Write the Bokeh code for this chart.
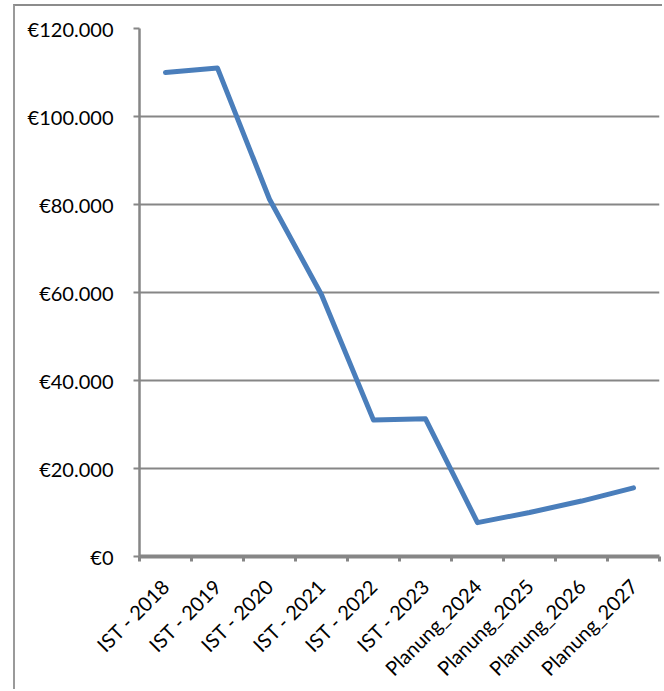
from math import pi
from bokeh.plotting import figure
from bokeh.models import Range1d, FixedTicker
from bokeh.embed import file_html
from bokeh.resources import INLINE

# ---- data ----
categories = ["IST - 2018", "IST - 2019", "IST - 2020", "IST - 2021", "IST - 2022",
              "IST - 2023", "Planung_2024", "Planung_2025", "Planung_2026", "Planung_2027"]
values = [110000, 111000, 81200, 59500, 31000, 31300, 7700, 10000, 12600, 15600]
y_ticks = [0, 20000, 40000, 60000, 80000, 100000, 120000]
y_tick_labels = ["€0", "€20.000", "€40.000", "€60.000", "€80.000", "€100.000", "€120.000"]

n = len(categories)
xs = [i + 0.5 for i in range(n)]

GRAY = "#868686"
FONT = "Lato"

p = figure(width=649, height=685, output_backend="svg", toolbar_location=None,
           x_range=Range1d(0, n), y_range=Range1d(0, 120000),
           min_border_left=124, min_border_right=5, min_border_top=22, min_border_bottom=134)
p.background_fill_color = "white"
p.border_fill_color = "white"
p.outline_line_color = None
p.styles = {"border-left": "2px solid #9a9a9a", "border-top": "2px solid #8c8c8c",
            "margin-left": "13px", "margin-top": "4px"}

p.line(xs, values, line_color="#4a7ebb", line_width=5, line_join="round", line_cap="round")

# x axis
p.xaxis.ticker = FixedTicker(ticks=xs, minor_ticks=list(range(n + 1)))
p.xaxis.major_label_overrides = {x: c for x, c in zip(xs, categories)}
p.xaxis.major_label_orientation = pi / 4
p.xaxis.major_tick_line_color = None
p.xaxis.minor_tick_line_color = GRAY
p.xaxis.minor_tick_line_width = 3
p.xaxis.minor_tick_out = 5
p.xaxis.minor_tick_in = 0
p.xaxis.axis_line_color = GRAY
p.xaxis.axis_line_width = 4
p.xaxis.major_label_text_font = FONT
p.xaxis.major_label_text_font_size = "20px"
p.xaxis.major_label_text_color = "black"
p.xaxis.major_label_standoff = 20

# y axis
p.yaxis.ticker = FixedTicker(ticks=y_ticks)
p.yaxis.major_label_overrides = {t: l for t, l in zip(y_ticks, y_tick_labels)}
p.yaxis.minor_tick_line_color = None
p.yaxis.major_tick_line_color = GRAY
p.yaxis.major_tick_line_width = 2
p.yaxis.major_tick_out = 6
p.yaxis.major_tick_in = 0
p.yaxis.axis_line_color = GRAY
p.yaxis.axis_line_width = 2.5
p.yaxis.major_label_text_font = FONT
p.yaxis.major_label_text_font_size = "20px"
p.yaxis.major_label_text_color = "black"
p.yaxis.major_label_standoff = 20

# grid
p.xgrid.grid_line_color = None
p.ygrid.grid_line_color = GRAY
p.ygrid.grid_line_width = 2

open("out.html", "w").write(file_html(p, INLINE))
